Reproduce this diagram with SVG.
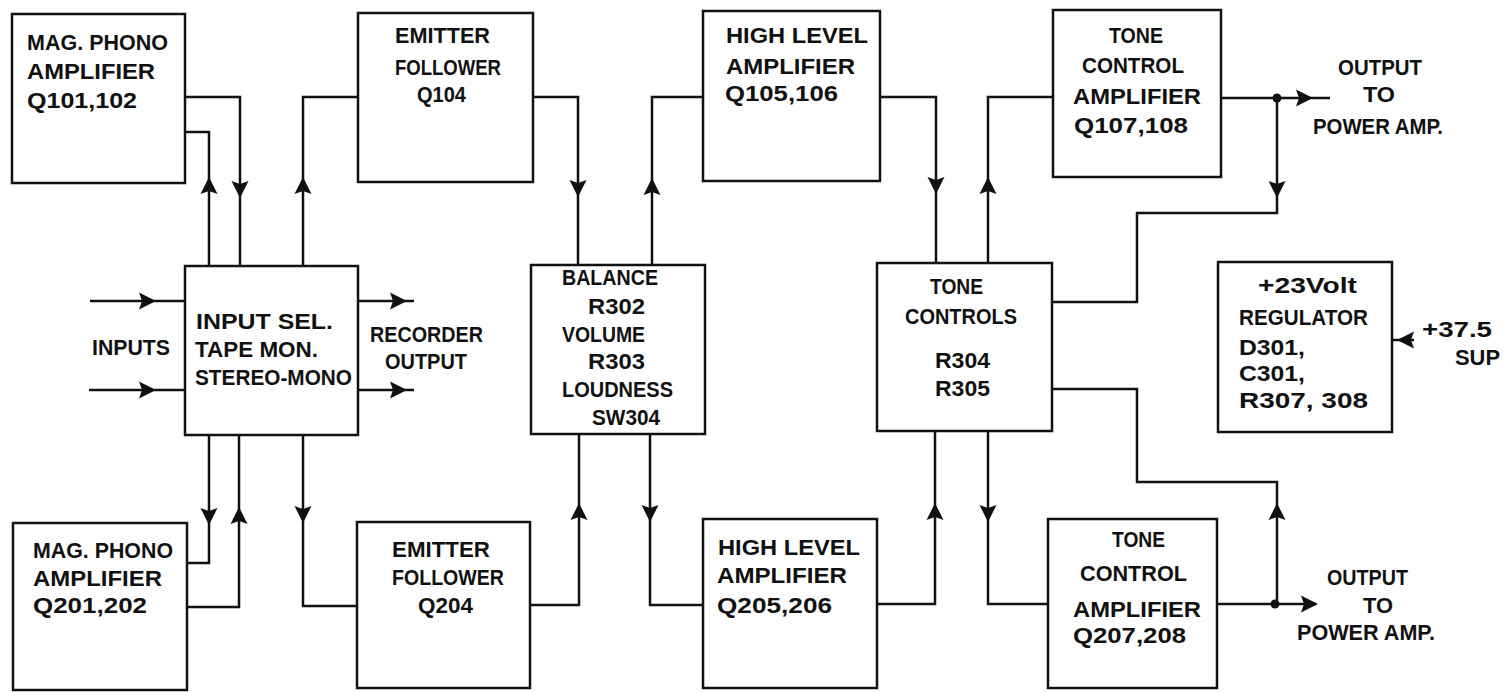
<svg xmlns="http://www.w3.org/2000/svg" xmlns:xlink="http://www.w3.org/1999/xlink" width="1506" height="692" viewBox="0 0 1506 692">
<style>
.box{fill:#fff;stroke:#111;stroke-width:2.5}
.w{fill:none;stroke:#111;stroke-width:2.5;stroke-linejoin:miter}
.t{font-family:"Liberation Sans",Arial,sans-serif;font-weight:bold;font-size:22px;fill:#111}
.ah{fill:#111}
</style>
<defs>
<path id="ah" d="M0,0 L-17,-8.5 L-14,0 L-17,8.5 Z"/>
</defs>
<rect width="1506" height="692" fill="#fff"/>

<g id="connectors">
<polyline class="w" points="185,97 240,97 240,266"/>
<polyline class="w" points="185,132 209,132 209,266"/>
<polyline class="w" points="303,266 303,97 358,97"/>
<polyline class="w" points="533,97 578,97 578,265"/>
<polyline class="w" points="652,265 652,97 703,97"/>
<polyline class="w" points="880,97 936,97 936,263"/>
<polyline class="w" points="988,263 988,97 1053,97"/>
<polyline class="w" points="1221,98 1330,98"/>
<polyline class="w" points="1277,98 1277,213 1137,213 1137,302 1052,302"/>
<polyline class="w" points="1052,389 1137,389 1137,482 1277,482 1277,604"/>
<polyline class="w" points="1217,604 1316,604"/>
<polyline class="w" points="90,301 185,301"/>
<polyline class="w" points="89,390 185,390"/>
<polyline class="w" points="358,301 414,301"/>
<polyline class="w" points="358,390 414,390"/>
<polyline class="w" points="1392,340 1414,340"/>
<polyline class="w" points="209,435 209,563 187,563"/>
<polyline class="w" points="187,607 239,607 239,435"/>
<polyline class="w" points="303,435 303,606 357,606"/>
<polyline class="w" points="530,605 579,605 579,434"/>
<polyline class="w" points="650,434 650,605 703,605"/>
<polyline class="w" points="877,604 935,604 935,431"/>
<polyline class="w" points="988,431 988,604 1048,604"/>
<circle class="ah" cx="1277" cy="98" r="4.5"/>
<circle class="ah" cx="1275" cy="604" r="4.5"/>
<use xlink:href="#ah" class="ah" transform="translate(209,177) rotate(-90)"/>
<use xlink:href="#ah" class="ah" transform="translate(240,198) rotate(90)"/>
<use xlink:href="#ah" class="ah" transform="translate(303,177) rotate(-90)"/>
<use xlink:href="#ah" class="ah" transform="translate(578,197) rotate(90)"/>
<use xlink:href="#ah" class="ah" transform="translate(652,178) rotate(-90)"/>
<use xlink:href="#ah" class="ah" transform="translate(936,194) rotate(90)"/>
<use xlink:href="#ah" class="ah" transform="translate(988,177) rotate(-90)"/>
<use xlink:href="#ah" class="ah" transform="translate(1277,198) rotate(90)"/>
<use xlink:href="#ah" class="ah" transform="translate(209,525) rotate(90)"/>
<use xlink:href="#ah" class="ah" transform="translate(239,507) rotate(-90)"/>
<use xlink:href="#ah" class="ah" transform="translate(303,523) rotate(90)"/>
<use xlink:href="#ah" class="ah" transform="translate(579,503) rotate(-90)"/>
<use xlink:href="#ah" class="ah" transform="translate(650,522) rotate(90)"/>
<use xlink:href="#ah" class="ah" transform="translate(935,503) rotate(-90)"/>
<use xlink:href="#ah" class="ah" transform="translate(988,522) rotate(90)"/>
<use xlink:href="#ah" class="ah" transform="translate(1277,503) rotate(-90)"/>
<use xlink:href="#ah" class="ah" transform="translate(156,301)"/>
<use xlink:href="#ah" class="ah" transform="translate(156,390)"/>
<use xlink:href="#ah" class="ah" transform="translate(407,301)"/>
<use xlink:href="#ah" class="ah" transform="translate(407,390)"/>
<use xlink:href="#ah" class="ah" transform="translate(1313,98)"/>
<use xlink:href="#ah" class="ah" transform="translate(1318,604)"/>
<use xlink:href="#ah" class="ah" transform="translate(1397,340) rotate(180)"/>
</g>

<g id="mag-phono-1">
<rect class="box" x="12" y="14" width="173" height="169"/>
<text class="t" x="27" y="50" textLength="141" lengthAdjust="spacingAndGlyphs">MAG. PHONO</text>
<text class="t" x="27" y="79" textLength="128" lengthAdjust="spacingAndGlyphs">AMPLIFIER</text>
<text class="t" x="27" y="108" textLength="110" lengthAdjust="spacingAndGlyphs">Q101,102</text>
</g>

<g id="emitter-follower-1">
<rect class="box" x="358" y="13" width="175" height="169"/>
<text class="t" x="395" y="43" textLength="95" lengthAdjust="spacingAndGlyphs">EMITTER</text>
<text class="t" x="395" y="75" textLength="106" lengthAdjust="spacingAndGlyphs">FOLLOWER</text>
<text class="t" x="417" y="102" textLength="49" lengthAdjust="spacingAndGlyphs">Q104</text>
</g>

<g id="high-level-1">
<rect class="box" x="703" y="11" width="177" height="170"/>
<text class="t" x="726" y="43" textLength="142" lengthAdjust="spacingAndGlyphs">HIGH LEVEL</text>
<text class="t" x="726" y="74" textLength="129" lengthAdjust="spacingAndGlyphs">AMPLIFIER</text>
<text class="t" x="725" y="101" textLength="113" lengthAdjust="spacingAndGlyphs">Q105,106</text>
</g>

<g id="tone-amp-1">
<rect class="box" x="1053" y="10" width="168" height="167"/>
<text class="t" x="1109" y="43" textLength="54" lengthAdjust="spacingAndGlyphs">TONE</text>
<text class="t" x="1082" y="73" textLength="102" lengthAdjust="spacingAndGlyphs">CONTROL</text>
<text class="t" x="1073" y="104" textLength="128" lengthAdjust="spacingAndGlyphs">AMPLIFIER</text>
<text class="t" x="1074" y="133" textLength="114" lengthAdjust="spacingAndGlyphs">Q107,108</text>
</g>

<g id="output-label-1">
<text class="t" x="1338" y="75" textLength="84" lengthAdjust="spacingAndGlyphs">OUTPUT</text>
<text class="t" x="1363" y="102" textLength="32" lengthAdjust="spacingAndGlyphs">TO</text>
<text class="t" x="1313" y="134" textLength="130" lengthAdjust="spacingAndGlyphs">POWER AMP.</text>
</g>

<g id="inputs-label">
<text class="t" x="92" y="355" textLength="78" lengthAdjust="spacingAndGlyphs">INPUTS</text>
</g>

<g id="input-select">
<rect class="box" x="185" y="266" width="173" height="169"/>
<text class="t" x="196" y="329" textLength="137" lengthAdjust="spacingAndGlyphs">INPUT SEL.</text>
<text class="t" x="195" y="357" textLength="123" lengthAdjust="spacingAndGlyphs">TAPE MON.</text>
<text class="t" x="195" y="385" textLength="157" lengthAdjust="spacingAndGlyphs">STEREO-MONO</text>
</g>

<g id="recorder-label">
<text class="t" x="370" y="342" textLength="113" lengthAdjust="spacingAndGlyphs">RECORDER</text>
<text class="t" x="385" y="369" textLength="82" lengthAdjust="spacingAndGlyphs">OUTPUT</text>
</g>

<g id="balance">
<rect class="box" x="531" y="265" width="174" height="169"/>
<text class="t" x="562" y="285" textLength="96" lengthAdjust="spacingAndGlyphs">BALANCE</text>
<text class="t" x="588" y="314" textLength="57" lengthAdjust="spacingAndGlyphs">R302</text>
<text class="t" x="562" y="342" textLength="83" lengthAdjust="spacingAndGlyphs">VOLUME</text>
<text class="t" x="588" y="369" textLength="57" lengthAdjust="spacingAndGlyphs">R303</text>
<text class="t" x="562" y="397" textLength="111" lengthAdjust="spacingAndGlyphs">LOUDNESS</text>
<text class="t" x="592" y="425" textLength="68" lengthAdjust="spacingAndGlyphs">SW304</text>
</g>

<g id="tone-controls">
<rect class="box" x="877" y="263" width="175" height="168"/>
<text class="t" x="930" y="294" textLength="53" lengthAdjust="spacingAndGlyphs">TONE</text>
<text class="t" x="905" y="324" textLength="112" lengthAdjust="spacingAndGlyphs">CONTROLS</text>
<text class="t" x="935" y="368" textLength="55" lengthAdjust="spacingAndGlyphs">R304</text>
<text class="t" x="935" y="396" textLength="55" lengthAdjust="spacingAndGlyphs">R305</text>
</g>

<g id="regulator">
<rect class="box" x="1218" y="262" width="174" height="170"/>
<text class="t" x="1258" y="293" textLength="99" lengthAdjust="spacingAndGlyphs">+23Volt</text>
<text class="t" x="1239" y="325" textLength="129" lengthAdjust="spacingAndGlyphs">REGULATOR</text>
<text class="t" x="1239" y="355" textLength="66" lengthAdjust="spacingAndGlyphs">D301,</text>
<text class="t" x="1239" y="381" textLength="66" lengthAdjust="spacingAndGlyphs">C301,</text>
<text class="t" x="1239" y="408" textLength="129" lengthAdjust="spacingAndGlyphs">R307, 308</text>
</g>

<g id="supply-label">
<text class="t" x="1422" y="337" textLength="70" lengthAdjust="spacingAndGlyphs">+37.5</text>
<text class="t" x="1455" y="365" textLength="45" lengthAdjust="spacingAndGlyphs">SUP</text>
</g>

<g id="mag-phono-2">
<rect class="box" x="13" y="523" width="174" height="167"/>
<text class="t" x="33" y="558" textLength="140" lengthAdjust="spacingAndGlyphs">MAG. PHONO</text>
<text class="t" x="33" y="586" textLength="129" lengthAdjust="spacingAndGlyphs">AMPLIFIER</text>
<text class="t" x="33" y="613" textLength="114" lengthAdjust="spacingAndGlyphs">Q201,202</text>
</g>

<g id="emitter-follower-2">
<rect class="box" x="357" y="522" width="173" height="166"/>
<text class="t" x="392" y="557" textLength="98" lengthAdjust="spacingAndGlyphs">EMITTER</text>
<text class="t" x="392" y="585" textLength="112" lengthAdjust="spacingAndGlyphs">FOLLOWER</text>
<text class="t" x="418" y="613" textLength="55" lengthAdjust="spacingAndGlyphs">Q204</text>
</g>

<g id="high-level-2">
<rect class="box" x="703" y="519" width="174" height="169"/>
<text class="t" x="718" y="555" textLength="142" lengthAdjust="spacingAndGlyphs">HIGH LEVEL</text>
<text class="t" x="717" y="583" textLength="130" lengthAdjust="spacingAndGlyphs">AMPLIFIER</text>
<text class="t" x="717" y="613" textLength="115" lengthAdjust="spacingAndGlyphs">Q205,206</text>
</g>

<g id="tone-amp-2">
<rect class="box" x="1048" y="519" width="169" height="169"/>
<text class="t" x="1112" y="547" textLength="53" lengthAdjust="spacingAndGlyphs">TONE</text>
<text class="t" x="1080" y="581" textLength="107" lengthAdjust="spacingAndGlyphs">CONTROL</text>
<text class="t" x="1073" y="617" textLength="128" lengthAdjust="spacingAndGlyphs">AMPLIFIER</text>
<text class="t" x="1073" y="643" textLength="113" lengthAdjust="spacingAndGlyphs">Q207,208</text>
</g>

<g id="output-label-2">
<text class="t" x="1327" y="585" textLength="81" lengthAdjust="spacingAndGlyphs">OUTPUT</text>
<text class="t" x="1363" y="613" textLength="30" lengthAdjust="spacingAndGlyphs">TO</text>
<text class="t" x="1297" y="640" textLength="138" lengthAdjust="spacingAndGlyphs">POWER AMP.</text>
</g>
</svg>
